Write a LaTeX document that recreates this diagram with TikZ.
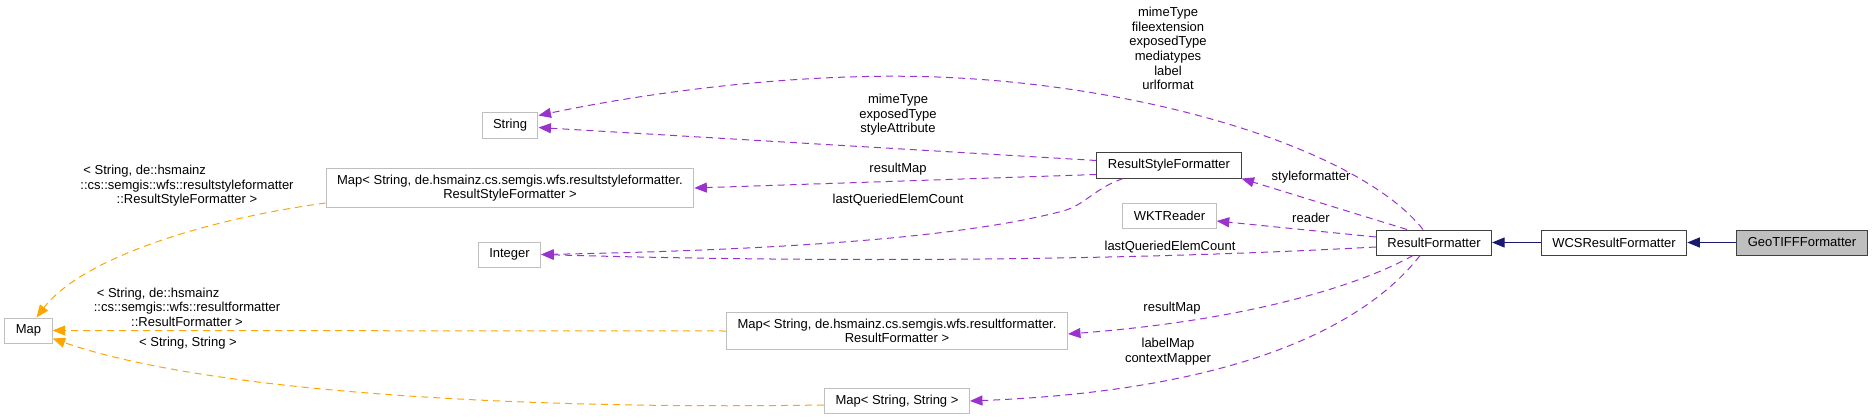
\documentclass[tikz,border=0pt]{standalone}
\usepackage{fontspec}
\setmainfont{Liberation Sans}
\usepackage{tikz}
\usetikzlibrary{arrows.meta}
\definecolor{grey75}{HTML}{BFBFBF}
\definecolor{boxdark}{HTML}{404040}
\definecolor{edgeuse}{HTML}{9A32CD}
\definecolor{edgetpl}{HTML}{FFA500}
\definecolor{edgeinh}{HTML}{191970}
\newlength{\tplw}

\begin{document}
\begin{tikzpicture}[x=1pt, y=-1pt,
      cls/.style={draw=grey75, line width=1pt, fill=white, minimum height=25pt, inner xsep=11pt, inner ysep=6.5pt, align=center, font=\fontsize{13}{14.6}\selectfont},
      hot/.style={cls, draw=boxdark},
      lbl/.style={inner sep=0pt, align=center, font=\fontsize{13}{14.6}\selectfont},
      usage/.style={-{Triangle[length=12.5pt,width=10pt]}, color=edgeuse, line width=1pt, dash pattern=on 7pt off 5pt},
      tmpl/.style={usage, color=edgetpl},
      inherit/.style={-{Triangle[length=12.5pt,width=10pt]}, color=edgeinh, line width=1pt}]
    \useasboundingbox (0,0) rectangle (1875,420);
    % classes
    \node[cls] (map) at (28.5,330.5) {Map};
    \node[cls] (string) at (510,125.5) {String};
    \node[cls] (maprsf) at (510,188) {Map< String, de.hsmainz.cs.semgis.wfs.resultstyleformatter.\\ResultStyleFormatter >};
    \node[cls] (integer) at (509.5,254.5) {Integer};
    \node[cls] (maprf) at (897,331) {Map< String, de.hsmainz.cs.semgis.wfs.resultformatter.\\ResultFormatter >};
    \node[cls] (mapss) at (897,401) {Map< String, String >};
    \node[hot] (rsf) at (1169,165.5) {ResultStyleFormatter};
    \node[cls] (wkt) at (1169.5,216) {WKTReader};
    \node[hot] (rf) at (1434,242.5) {ResultFormatter};
    \node[hot] (wcs) at (1614,242.5) {WCSResultFormatter};
    \node[hot, fill=grey75] (geo) at (1802,242.5) {GeoTIFFFormatter};
    % usage edges
    \draw[usage] ([xshift=-11pt]rf.north) .. controls (1360,150) and (1150,85) .. (937,77) .. controls (800,72) and (650,92) .. ([yshift=10pt]string.east);
    \draw[usage] ([yshift=5pt]rsf.west) -- ([yshift=-2pt]string.east);
    \draw[usage] ([yshift=-9pt]rsf.west) -- (maprsf.east);
    \draw[usage] ([xshift=-46pt]rsf.south) .. controls (1095,188) and (1085,205) .. (1063,211) .. controls (960,238) and (780,250) .. (integer.east);
    \draw[usage] ([yshift=-4.5pt]rf.west) .. controls (1100,262) and (800,262) .. (integer.east);
    \draw[usage] ([xshift=-27pt]rf.north) -- (rsf.south east);
    \draw[usage] ([yshift=5.5pt]rf.west) -- ([yshift=-5pt]wkt.east);
    \draw[usage] ([xshift=-21pt]rf.south) .. controls (1360,285) and (1250,320) .. ([yshift=-3pt]maprf.east);
    \draw[usage] ([xshift=-14pt]rf.south) .. controls (1370,320) and (1250,390) .. (mapss.east);
    % template edges
    \draw[tmpl] ([yshift=-15pt]maprsf.west) .. controls (200,220) and (80,260) .. ([xshift=8pt]map.north);
    \draw[tmpl] (maprf.west) -- (map.east);
    \draw[tmpl] ([yshift=-4pt]mapss.west) .. controls (500,410) and (200,390) .. ([yshift=-8pt]map.east);
    % inheritance
    \draw[inherit] (wcs) -- (rf);
    \draw[inherit] (geo) -- (wcs);
    % edge labels
    \node[lbl] (lstr) at (1168,48.5) {mimeType\\fileextension\\exposedType\\mediatypes\\label\\urlformat};
    \node[lbl] (lrsfstr) at (898,115) {mimeType\\exposedType\\styleAttribute};
    \node[lbl] (lrsfmap) at (898,169) {resultMap};
    \node[lbl] (lrsfint) at (898,200) {lastQueriedElemCount};
    \node[lbl] (lstyle) at (1311,177) {styleformatter};
    \node[lbl] (lreader) at (1311,218) {reader};
    \node[lbl] (lrfint) at (1170,247) {lastQueriedElemCount};
    \node[lbl] (lrfmap) at (1172,308) {resultMap};
    \node[lbl] (lrfss) at (1168,351.5) {labelMap\\contextMapper};
    \node[lbl] (ltplrsf) at (187,186) {\settowidth{\tplw}{::cs::semgis::wfs::resultstyleformatter}\makebox[\tplw][l]{\hspace{3pt}< String, de::hsmainz}\\::cs::semgis::wfs::resultstyleformatter\\::ResultStyleFormatter >};
    \node[lbl] (ltplrf) at (187,307) {\settowidth{\tplw}{::cs::semgis::wfs::resultformatter}\makebox[\tplw][l]{\hspace{3pt}< String, de::hsmainz}\\::cs::semgis::wfs::resultformatter\\::ResultFormatter >};
    \node[lbl] (ltplss) at (188,343) {< String, String >};
  \end{tikzpicture}
\end{document}
